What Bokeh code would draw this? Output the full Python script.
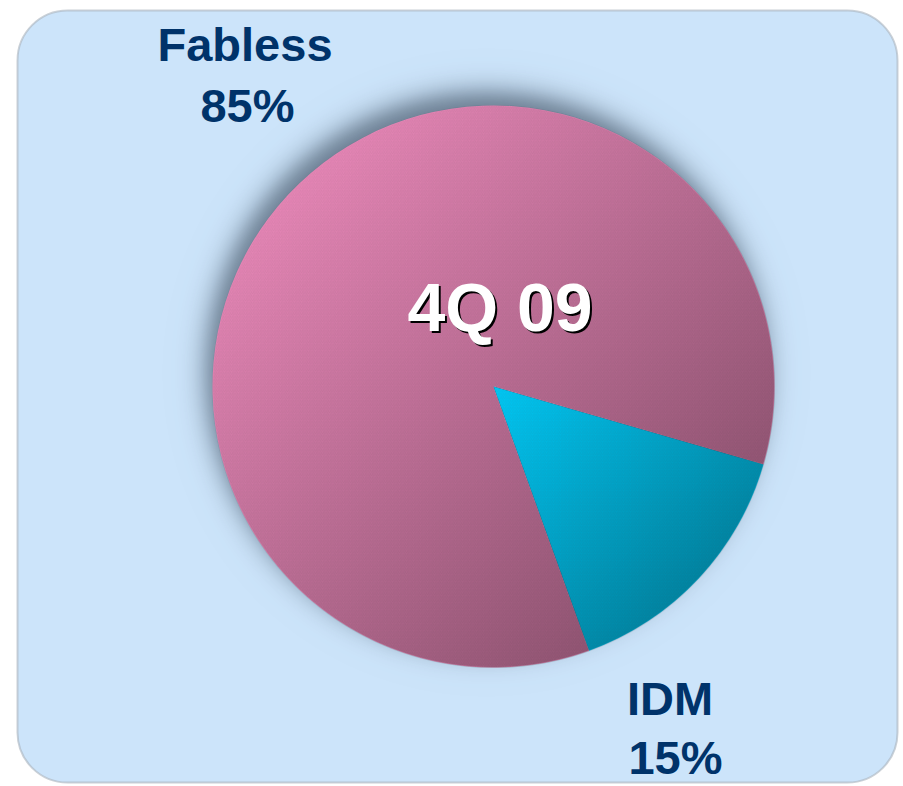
import numpy as np
from bokeh.plotting import figure
from bokeh.models import BoxAnnotation, Range1d
from bokeh.core.properties import value
from bokeh.embed import file_html
from bokeh.resources import INLINE

# ---- data ----
categories = ["Fabless", "IDM"]
shares = [85, 15]
slice_colors = ["#f890c4", "#00c8f5"]
shade_max = [0.5, 0.45]
title_text = "4Q 09"

# ---- layout ----
W, H = 903, 786
CX, CY, R = 493.0, 400.0, 281.0
START_DEG = -16.1  # clockwise layout, IDM first from this angle

p = figure(width=W, height=H, x_range=Range1d(0, W), y_range=Range1d(0, H),
           output_backend="svg", toolbar_location=None, min_border=0)
p.axis.visible = False
p.grid.visible = False
p.outline_line_color = None
p.background_fill_color = "white"
p.border_fill_color = "white"

box = BoxAnnotation(left=17, right=897, bottom=4, top=776,
                    fill_color="#cce4fa", fill_alpha=1.0,
                    line_color="#a8b2bc", line_width=2, line_alpha=0.6,
                    border_radius=50, level="underlay")
p.add_layout(box)


def rgba_image(n, rgb, alpha):
    img = np.zeros((n, n), dtype=np.uint32)
    v = img.view(dtype=np.uint8).reshape((n, n, 4))
    v[..., 0], v[..., 1], v[..., 2] = rgb
    v[..., 3] = np.round(np.clip(alpha, 0, 1) * 255).astype(np.uint8)
    return img


# ---- soft blurred shadow, offset up-left ----
SDX, SDY, SK, SA = -7.0, 14.0, 7.5, 0.66
NS = int(2 * R) + 140
sx0, sy0 = CX + SDX - NS / 2.0, CY + SDY - NS / 2.0
SX, SY = np.meshgrid(sx0 + np.arange(NS) + 0.5, sy0 + np.arange(NS) + 0.5)
SD = np.hypot(SX - (CX + SDX), SY - (CY + SDY))
s_alpha = SA / (1.0 + np.exp((SD - R) / SK))
p.image_rgba(image=[rgba_image(NS, (52, 68, 86), s_alpha)], x=sx0, y=sy0, dw=NS, dh=NS)

# ---- wedges from data ----
total = float(sum(shares))
order = [1, 0]  # IDM first, going clockwise
starts = [0.0] * len(shares)
ends = [0.0] * len(shares)
cum = 0.0
off = np.deg2rad(START_DEG)
for i in order:
    span = shares[i] / total * 2 * np.pi
    ends[i] = off - cum
    starts[i] = ends[i] - span
    cum += span

p.wedge(x=[CX] * len(shares), y=[CY] * len(shares), radius=R,
        start_angle=starts, end_angle=ends, fill_color=slice_colors,
        line_color=None, hatch_pattern="/", hatch_color="#555555",
        hatch_alpha=0.12, hatch_scale=3.5, hatch_weight=0.6)

# ---- per-slice linear shading (top-left light -> bottom-right dark) ----
N = int(2 * R) + 2
x0, y0 = CX - N / 2.0, CY - N / 2.0
X, Y = np.meshgrid(x0 + np.arange(N) + 0.5, y0 + np.arange(N) + 0.5)
D = np.hypot(X - CX, Y - CY)
cover = np.clip(R - D + 0.5, 0, 1)
TH = np.arctan2(Y - CY, X - CX)
alpha = np.zeros((N, N))
for i in range(len(shares)):
    s, e = starts[i], ends[i]
    inside = np.mod(TH - s, 2 * np.pi) < (e - s)
    angs = np.linspace(s, e, 400)
    px = np.concatenate([[CX], CX + R * np.cos(angs)])
    py = np.concatenate([[CY], CY + R * np.sin(angs)])
    smin = px.min() - py.max()
    smax = px.max() - py.min()
    t = np.clip(((X - Y) - smin) / (smax - smin), 0, 1)
    alpha = np.where(inside, shade_max[i] * t, alpha)
p.image_rgba(image=[rgba_image(N, (0, 0, 0), alpha * cover)], x=x0, y=y0, dw=N, dh=N)

# ---- labels ----
label_font = value("Liberation Sans")
name_x = [244.5, 669.5]
name_y = [742, 88]
pct_x = [247, 675]
pct_y = [681, 29]
p.text(x=name_x, y=name_y, text=categories, text_font=label_font,
       text_font_style="bold", text_font_size="47px", text_color="#00336a",
       text_align="center", text_baseline="alphabetic")
p.text(x=pct_x, y=pct_y, text=[f"{v}%" for v in shares], text_font=label_font,
       text_font_style="bold", text_font_size="47px", text_color="#00336a",
       text_align="center", text_baseline="alphabetic")

# ---- centre title with drop shadow ----
p.text(x=[501.5], y=[478], text=[title_text], text_font=label_font,
       text_font_style="bold", text_font_size="68px", text_color="black",
       text_align="center", text_baseline="alphabetic")
p.text(x=[499.5], y=[480], text=[title_text], text_font=label_font,
       text_font_style="bold", text_font_size="68px", text_color="white",
       text_align="center", text_baseline="alphabetic")

open("out.html", "w").write(file_html(p, INLINE))
